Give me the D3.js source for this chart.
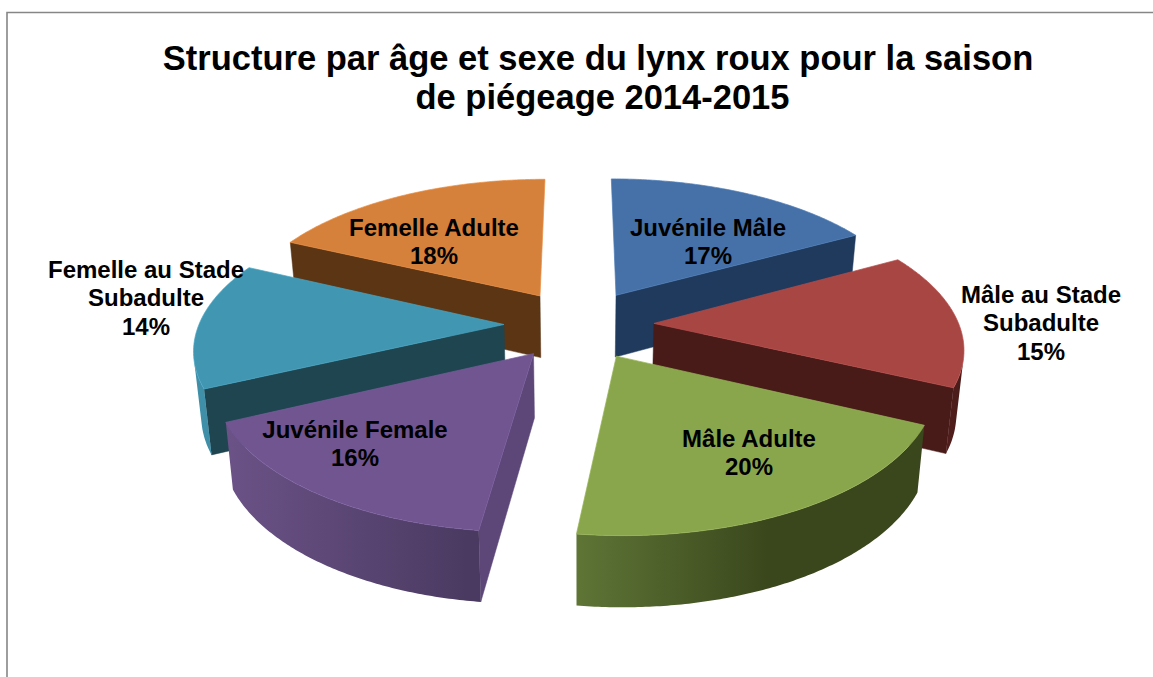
<!DOCTYPE html>
<html><head><meta charset="utf-8">
<script src="https://cdn.jsdelivr.net/npm/d3@7"></script>
<style>html,body{margin:0;padding:0;background:#fff}svg{display:block}
text{font-family:"Liberation Sans",Arial,sans-serif;font-weight:bold;fill:#000}</style>
</head><body><svg id="c" width="1153" height="677"></svg>
<script>
const categories = ["Juvénile Mâle","Mâle au Stade Subadulte","Mâle Adulte","Juvénile Female","Femelle au Stade Subadulte","Femelle Adulte"];
const values = [17,15,20,16,14,18];
const titleLines = ["Structure par âge et sexe du lynx roux pour la saison","de piégeage 2014-2015"];

// styles and layout, keyed by category index
const topColors  = ["#4671a8","#a84644","#8aa64d","#705590","#4197b2","#d6813b"];
const wallColors = ["#1f3a5c","#481b18","#3a471c","#5c4778","#1e4550","#5b3514"];
const rimLight   = ["#1f3a5c","#521f1d","#5e7536","#6b5287","#3f8fa8","#5b3514"];
const rimDark    = ["#1f3a5c","#481b18","#3a471c","#4a3a61","#3f8fa8","#5b3514"];
const labelLines = [["Juvénile Mâle"],["Mâle au Stade","Subadulte"],["Mâle Adulte"],["Juvénile Female"],["Femelle au Stade","Subadulte"],["Femelle Adulte"]];
const labelAnchor = [[708,236],[1041,303],[749,447],[355,437.5],[146,278],[434,236]];
const titleAnchor = [[598,69.5],[602.5,108.5]];

const view = {cx:579, cy:324.5, sx:305, a:142, b:.15, h:63, bh:.1, shrink:.02, explode:.246};
const svg = d3.select("#c");

function project(X, z, h) {
  const p = 1 + view.b*z;
  return [view.cx + view.sx*X/p*(1 - view.shrink*h),
          view.cy - view.a*z/p + h*view.h/(1 + view.bh*z)];
}
const line = d3.line();

const arcs = d3.pie().sort(null)(values).map((d,i)=>{
  const mid = (d.startAngle+d.endAngle)/2;
  const ox = view.explode*Math.sin(mid), oz = view.explode*Math.cos(mid);
  const pt = (t,h)=>project(ox+Math.sin(t), oz+Math.cos(t), h);
  const n = Math.ceil((d.endAngle-d.startAngle)/0.01);
  const ts = d3.range(n+1).map(k=>d.startAngle+(d.endAngle-d.startAngle)*k/n);
  return {i, d, ox, oz, pt, ts, apexT:project(ox,oz,0), apexB:project(ox,oz,1)};
}).sort((p,q)=>d3.descending(p.oz,q.oz));

const isVisible = q => {
  let s=0; for(let k=0;k<q.length;k++){const a=q[k],b=q[(k+1)%q.length]; s+=a[0]*b[1]-b[0]*a[1];}
  return s<0;
};

const defs = svg.append("defs");

// chart frame
svg.append("path").attr("d",line([[7,677],[7,12.5],[1153,12.5]]))
   .attr("fill","none").attr("stroke","#868686").attr("stroke-width",1.6);

arcs.forEach(s=>{
  const g = svg.append("g");
  const p0=s.pt(s.ts[0],0), p0b=s.pt(s.ts[0],1);
  const p1=s.pt(s.ts[s.ts.length-1],0), p1b=s.pt(s.ts[s.ts.length-1],1);
  // radial walls are drawn only when their normal points toward the front
  const walls=[
    {q:[s.apexT,p0,p0b,s.apexB], nz:Math.sin(s.d.startAngle)},
    {q:[p1,s.apexT,s.apexB,p1b], nz:-Math.sin(s.d.endAngle)}
  ];
  walls.forEach(w=>{ if(w.nz<-.01 && isVisible(w.q))
    g.append("path").attr("d",line(w.q)+"Z").attr("fill",wallColors[s.i]).attr("stroke",wallColors[s.i]).attr("stroke-width",.5);
  });
  // outer rim: only the part that faces the viewer
  const vis=[];
  for(let k=0;k<s.ts.length-1;k++){
    const q=[s.pt(s.ts[k],0),s.pt(s.ts[k+1],0),s.pt(s.ts[k+1],1),s.pt(s.ts[k],1)];
    if(isVisible(q)){ if(!vis.length) vis.push(s.ts[k]); vis.push(s.ts[k+1]); }
  }
  if(vis.length){
    const poly=[...vis.map(t=>s.pt(t,0)),...vis.slice().reverse().map(t=>s.pt(t,1))];
    const xs=d3.extent(poly,d=>d[0]);
    const id="rim"+s.i;
    const lg=defs.append("linearGradient").attr("id",id).attr("gradientUnits","userSpaceOnUse")
      .attr("x1",xs[0]).attr("x2",xs[1]).attr("y1",0).attr("y2",0);
    lg.append("stop").attr("offset",0).attr("stop-color",rimLight[s.i]);
    lg.append("stop").attr("offset",s.i===2?.55:.95).attr("stop-color",rimDark[s.i]);
    g.append("path").attr("d",line(poly)+"Z").attr("fill",`url(#${id})`);
  }
  const top=[s.apexT,...s.ts.map(t=>s.pt(t,0))];
  g.append("path").attr("d",line(top)+"Z").attr("fill",topColors[s.i])
    .attr("stroke",d3.color(topColors[s.i]).brighter(.25)).attr("stroke-width",.7).attr("stroke-linejoin","round");
});

// title
svg.append("g").selectAll("text").data(titleLines).join("text")
  .attr("x",(d,i)=>titleAnchor[i][0]).attr("y",(d,i)=>titleAnchor[i][1]).attr("text-anchor","middle").attr("font-size",34.5).text(d=>d);

// data labels
const labels = svg.append("g").selectAll("g").data(categories).join("g")
  .attr("transform",(d,i)=>`translate(${labelAnchor[i]})`);
labels.each(function(d,i){
  const rows=[...labelLines[i],values[i]+"%"];
  d3.select(this).selectAll("text").data(rows).join("text")
    .attr("y",(r,k)=>k*28.4).attr("text-anchor","middle").attr("font-size",24).text(r=>r);
});
</script></body></html>
